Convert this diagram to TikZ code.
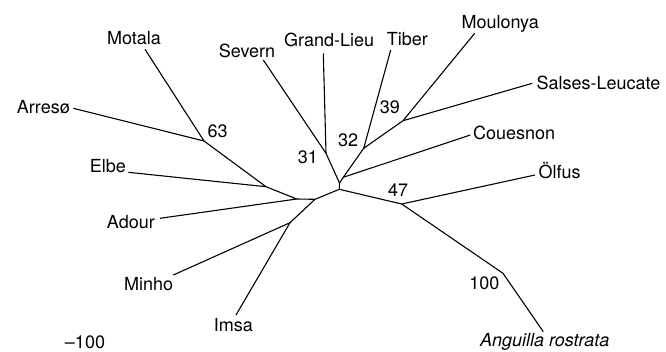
\documentclass[tikz,border=0pt]{standalone}
\usepackage{fontspec}
\setmainfont{TeX Gyre Heros}
\begin{document}
\begin{tikzpicture}[x=1pt,y=-1pt,
  br/.style={line width=1.1pt,line join=round},
  lab/.style={inner sep=0pt,font=\fontsize{18}{20}\selectfont},
  boot/.style={inner sep=0pt,font=\fontsize{18}{20}\selectfont}]
\useasboundingbox (0,0) rectangle (666,351);
% leaf ends
\coordinate (lMotala) at (145,49.3);
\coordinate (lSevern) at (263.3,60);
\coordinate (lGrand) at (323.3,53.3);
\coordinate (lTiber) at (390.7,50);
\coordinate (lMoulonya) at (474.7,33.3);
\coordinate (lSalses) at (532.3,83.3);
\coordinate (lCouesnon) at (470.3,135);
\coordinate (lOlfus) at (535,175);
\coordinate (lAnguilla) at (543.3,331.7);
\coordinate (lImsa) at (236,315);
\coordinate (lMinho) at (173.3,275);
\coordinate (lAdour) at (160,218.3);
\coordinate (lElbe) at (128.3,172.3);
\coordinate (lArreso) at (73.3,108.3);
% internal nodes
\coordinate (n63) at (204,141);
\coordinate (nE) at (266,186.7);
\coordinate (nA) at (296.7,199);
\coordinate (nB) at (315,199.3);
\coordinate (nMI) at (290,222.7);
\coordinate (c0) at (339.3,189.3);
\coordinate (c1) at (339.5,183);
\coordinate (n31) at (326,153.3);
\coordinate (c2) at (343.3,177.3);
\coordinate (n32) at (363.7,148.3);
\coordinate (n39) at (403,120.7);
\coordinate (n47) at (401.7,204);
\coordinate (n100) at (503,273.3);
% branches
\draw[br] (lMotala) -- (n63) -- (lArreso);
\draw[br] (n63) -- (nE) -- (lElbe);
\draw[br] (nE) -- (nA) -- (lAdour);
\draw[br] (nA) -- (nB) -- (c0);
\draw[br] (nB) -- (nMI) -- (lMinho);
\draw[br] (nMI) -- (lImsa);
\draw[br] (c0) -- (c1) -- (n31) -- (lSevern);
\draw[br] (n31) -- (lGrand);
\draw[br] (c1) -- (c2) -- (lCouesnon);
\draw[br] (c2) -- (n32) -- (lTiber);
\draw[br] (n32) -- (n39) -- (lMoulonya);
\draw[br] (n39) -- (lSalses);
\draw[br] (c0) -- (n47) -- (lOlfus);
\draw[br] (n47) -- (n100) -- (lAnguilla);
% leaf labels
\node[lab,anchor=base] (tMotala) at (134,44.3) {Motala};
\node[lab,anchor=base] (tSevern) at (247,57.5) {Severn};
\node[lab,anchor=base west] (tGrand) at (284,46.7) {Grand-Lieu};
\node[lab,anchor=base west] (tTiber) at (386.7,45) {Tiber};
\node[lab,anchor=base west] (tMoulonya) at (461.3,28.3) {Moulonya};
\node[lab,anchor=base west] (tSalses) at (536.3,89.3) {Salses-Leucate};
\node[lab,anchor=base west] (tCouesnon) at (473,139.3) {Couesnon};
\node[lab,anchor=base west] (tOlfus) at (538.3,178.3) {Ölfus};
\node[lab,anchor=base west] (tAnguilla) at (480,346.8) {\itshape Anguilla rostrata};
\node[lab,anchor=base east] (tArreso) at (70,113.3) {Arresø};
\node[lab,anchor=base east] (tElbe) at (126,172.3) {Elbe};
\node[lab,anchor=base east] (tAdour) at (155,228.3) {Adour};
\node[lab,anchor=base east] (tMinho) at (173.3,290) {Minho};
\node[lab,anchor=base] (tImsa) at (233.3,331.7) {Imsa};
\node[lab,anchor=base] (tScale) at (85,348.3) {\textendash100};
% bootstrap values
\node[boot,anchor=base west] (b63) at (207.3,137.3) {63};
\node[boot,anchor=base west] (b31) at (297.7,163.3) {31};
\node[boot,anchor=base west] (b32) at (338,146.7) {32};
\node[boot,anchor=base west] (b39) at (379.7,113.3) {39};
\node[boot,anchor=base west] (b47) at (388,196.7) {47};
\node[boot,anchor=base east] (b100) at (499.7,289) {100};
\end{tikzpicture}
\end{document}
